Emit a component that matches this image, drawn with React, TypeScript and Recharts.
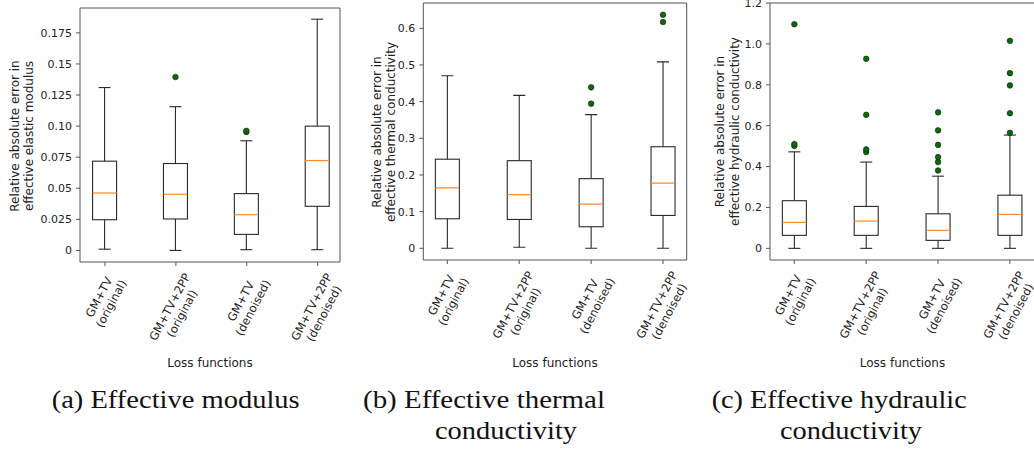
import React from 'react';
import { ComposedChart, Bar, XAxis, YAxis, ReferenceLine } from 'recharts';

// ---------- categories ----------
const catLine1 = ['GM+TV', 'GM+TV+2PP', 'GM+TV', 'GM+TV+2PP'];
const catLine2 = ['(original)', '(original)', '(denoised)', '(denoised)'];
const positions = [1, 2, 3, 4];

// ---------- (a) effective modulus ----------
const modMin = [0.001, 0.0, 0.0006, 0.0006];
const modQ1 = [0.0247, 0.0253, 0.0129, 0.0355];
const modMed = [0.0462, 0.0452, 0.0288, 0.0723];
const modQ3 = [0.0718, 0.0699, 0.0457, 0.1];
const modMax = [0.131, 0.1156, 0.0882, 0.186];
const modOut = [[], [0.1395], [0.0952, 0.0962], []];
const modTicks = [0, 0.025, 0.05, 0.075, 0.1, 0.125, 0.15, 0.175];
const modTickLabels = ['0', '0.025', '0.05', '0.075', '0.10', '0.125', '0.15', '0.175'];

// ---------- (b) effective thermal conductivity ----------
const thMin = [0, 0.0027, 0, 0];
const thQ1 = [0.0805, 0.0787, 0.0588, 0.0896];
const thMed = [0.1646, 0.1466, 0.1203, 0.178];
const thQ3 = [0.243, 0.239, 0.19, 0.277];
const thMax = [0.4705, 0.417, 0.3646, 0.5085];
const thOut = [[], [], [0.3945, 0.439], [0.617, 0.637]];
const thTicks = [0, 0.1, 0.2, 0.3, 0.4, 0.5, 0.6];
const thTickLabels = ['0', '0.1', '0.2', '0.3', '0.4', '0.5', '0.6'];

// ---------- (c) effective hydraulic conductivity ----------
const hyMin = [0, 0, 0, 0];
const hyQ1 = [0.0635, 0.0635, 0.039, 0.0635];
const hyMed = [0.127, 0.1334, 0.088, 0.166];
const hyQ3 = [0.233, 0.205, 0.169, 0.26];
const hyMax = [0.472, 0.422, 0.353, 0.554];
const hyOut = [
  [0.501, 0.51, 1.096],
  [0.471, 0.484, 0.653, 0.927],
  [0.381, 0.422, 0.446, 0.506, 0.577, 0.665],
  [0.565, 0.661, 0.797, 0.857, 1.015],
];
const hyTicks = [0, 0.2, 0.4, 0.6, 0.8, 1.0, 1.2];
const hyTickLabels = ['0', '0.2', '0.4', '0.6', '0.8', '1.0', '1.2'];

// ---------- helpers ----------
const buildRows = (mins: number[], q1s: number[], meds: number[], q3s: number[], maxs: number[], outs: number[][]) =>
  positions.map((p, i) => ({
    pos: p,
    whisk: [mins[i], maxs[i]],
    lo: mins[i],
    hi: maxs[i],
    q1: q1s[i],
    med: meds[i],
    q3: q3s[i],
    out: outs[i],
  }));

const FONT = '"DejaVu Sans", sans-serif';
const BOX_STROKE = '#2a2a2a';
const FRAME = '#555555';
const MEDIAN = '#ff8a26';
const OUT_FILL = '#0b6a0b';

const BoxShape = (props: any) => {
  const { x, y, width, height } = props;
  const d = props.payload || props;
  const { lo, hi, q1, med, q3, out } = d;
  const py = (v: number) => y + (height * (hi - v)) / (hi - lo);
  const cx = x + width / 2;
  const cap = width / 4;
  return (
    <g>
      <line x1={cx} x2={cx} y1={py(hi)} y2={py(q3)} stroke={BOX_STROKE} strokeWidth={1.1} />
      <line x1={cx} x2={cx} y1={py(q1)} y2={py(lo)} stroke={BOX_STROKE} strokeWidth={1.1} />
      <line x1={cx - cap} x2={cx + cap} y1={py(hi)} y2={py(hi)} stroke={BOX_STROKE} strokeWidth={1.1} />
      <line x1={cx - cap} x2={cx + cap} y1={py(lo)} y2={py(lo)} stroke={BOX_STROKE} strokeWidth={1.1} />
      <rect x={x} y={py(q3)} width={width} height={py(q1) - py(q3)} fill="none" stroke={BOX_STROKE} strokeWidth={1.1} />
      <line x1={x} x2={x + width} y1={py(med)} y2={py(med)} stroke={MEDIAN} strokeWidth={1.2} />
      {(out || []).map((v: number, k: number) => (
        <circle key={k} cx={cx} cy={py(v)} r={2.8} fill={OUT_FILL} stroke="#1a1a1a" strokeWidth={0.6} />
      ))}
    </g>
  );
};

// DejaVu Sans advance widths (em)
const CW: Record<string, number> = {
  G: 0.775, M: 0.863, '+': 0.838, T: 0.611, V: 0.684, '2': 0.636, P: 0.603,
  '(': 0.39, ')': 0.39, o: 0.612, r: 0.411, i: 0.278, g: 0.635, n: 0.634, a: 0.613,
  l: 0.278, d: 0.635, e: 0.615, s: 0.521,
};
const textW = (s: string, fs: number) => s.split('').reduce((a, c) => a + (CW[c] || 0.6), 0) * fs;

const XFS = 11.5;
const THETA = 62;

const makeXTick = (plotBottom: number) => (props: any) => {
  const { x, payload } = props;
  const i = Math.round(payload.value) - 1;
  if (i < 0 || i > 3) return null;
  const l1 = catLine1[i];
  const l2 = catLine2[i];
  const lh = XFS * 1.2;
  const w = Math.max(textW(l1, XFS), textW(l2, XFS));
  const h = 2 * lh;
  const th = (THETA * Math.PI) / 180;
  const H = w * Math.sin(th) + h * Math.cos(th);
  const top = plotBottom + 9;
  const cy = top + H / 2;
  return (
    <g transform={`translate(${x},${cy}) rotate(${-THETA})`}>
      <text textAnchor="middle" fontFamily={FONT} fontSize={XFS} fill="#222">
        <tspan x={0} y={-lh / 2} dominantBaseline="central">{l1}</tspan>
        <tspan x={0} y={lh / 2} dominantBaseline="central">{l2}</tspan>
      </text>
    </g>
  );
};

type PanelProps = {
  left: number;
  width: number;
  top: number;
  plotBottom: number;
  yWidth: number;
  right: number;
  rows: any[];
  ticks: number[];
  tickLabels: string[];
  yDomain: [number, number];
  xDomain: [number, number];
  ylab: [string, string];
  ylabX: [number, number];
  ylabY: number;
  xlabX: number;
};

const CHART_H = 400;

const Panel = (p: PanelProps) => {
  const XTick = makeXTick(p.plotBottom);
  return (
    <div style={{ position: 'absolute', left: p.left, top: 0 }}>
      <ComposedChart
        width={p.width}
        height={CHART_H}
        data={p.rows}
        margin={{ top: p.top, right: p.right, bottom: 0, left: 0 }}
      >
        <XAxis
          dataKey="pos"
          type="number"
          domain={p.xDomain}
          ticks={positions}
          allowDataOverflow
          interval={0}
          height={CHART_H - p.plotBottom}
          tickSize={4}
          tickLine={{ stroke: FRAME }}
          axisLine={{ stroke: FRAME }}
          tick={<XTick />}
          label={{
            content: () => (
              <text x={p.xlabX} y={367} textAnchor="middle" fontFamily={FONT} fontSize={12} fill="#222">
                Loss functions
              </text>
            ),
          }}
        />
        <YAxis
          type="number"
          domain={p.yDomain}
          ticks={p.ticks}
          allowDataOverflow
          interval={0}
          width={p.yWidth}
          tickSize={4}
          tickMargin={4}
          tickLine={{ stroke: FRAME }}
          axisLine={{ stroke: FRAME }}
          tick={{ fontFamily: FONT, fontSize: 11, fill: '#222' }}
          tickFormatter={(v: number) => {
            const k = p.ticks.findIndex((t) => Math.abs(t - v) < 1e-9);
            return k >= 0 ? p.tickLabels[k] : String(v);
          }}
          label={{
            content: () => (
              <g fontFamily={FONT} fontSize={12} fill="#222">
                <text
                  x={p.ylabX[0]}
                  y={p.ylabY}
                  textAnchor="middle"
                  dominantBaseline="central"
                  transform={`rotate(-90 ${p.ylabX[0]} ${p.ylabY})`}
                >
                  {p.ylab[0]}
                </text>
                <text
                  x={p.ylabX[1]}
                  y={p.ylabY}
                  textAnchor="middle"
                  dominantBaseline="central"
                  transform={`rotate(-90 ${p.ylabX[1]} ${p.ylabY})`}
                >
                  {p.ylab[1]}
                </text>
              </g>
            ),
          }}
        />
        <ReferenceLine y={p.yDomain[1]} stroke={FRAME} strokeWidth={1} ifOverflow="visible" />
        <ReferenceLine x={p.xDomain[1]} stroke={FRAME} strokeWidth={1} ifOverflow="visible" />
        <Bar dataKey="whisk" barSize={24} isAnimationActive={false} shape={<BoxShape />} />
      </ComposedChart>
    </div>
  );
};

const CAP_FONT = 'Liberation Serif, Times New Roman, serif';

const Caption = ({ x, y, w, text }: { x: number; y: number; w: number; text: string }) => (
  <text x={x} y={y} fontFamily={CAP_FONT} fontSize={25.5} fill="#111" textLength={w} lengthAdjust="spacingAndGlyphs">
    {text}
  </text>
);

export default function App() {
  const modRows = buildRows(modMin, modQ1, modMed, modQ3, modMax, modOut);
  const thRows = buildRows(thMin, thQ1, thMed, thQ3, thMax, thOut);
  const hyRows = buildRows(hyMin, hyQ1, hyMed, hyQ3, hyMax, hyOut);
  return (
    <div
      style={{
        position: 'absolute',
        left: 0,
        top: 0,
        width: 1034,
        height: 450,
        overflow: 'hidden',
        background: '#fff',
      }}
    >
      <Panel
        left={0}
        width={345}
        top={8}
        plotBottom={262}
        yWidth={80}
        right={5}
        rows={modRows}
        ticks={modTicks}
        tickLabels={modTickLabels}
        yDomain={[-0.0093, 0.195]}
        xDomain={[0.647, 4.315]}
        ylab={['Relative absolute error in', 'effective elastic modulus']}
        ylabX={[15, 28.5]}
        ylabY={136}
        xlabX={210}
      />
      <Panel
        left={345}
        width={345}
        top={3}
        plotBottom={260}
        yWidth={78.3}
        right={3.3}
        rows={thRows}
        ticks={thTicks}
        tickLabels={thTickLabels}
        yDomain={[-0.0319, 0.669]}
        xDomain={[0.666, 4.33]}
        ylab={['Relative absolute error in', 'effective thermal conductivity']}
        ylabX={[31.7, 45.7]}
        ylabY={132}
        xlabX={210}
      />
      <Panel
        left={690}
        width={346}
        top={3}
        plotBottom={260}
        yWidth={80}
        right={1}
        rows={hyRows}
        ticks={hyTicks}
        tickLabels={hyTickLabels}
        yDomain={[-0.057, 1.2]}
        xDomain={[0.662, 4.35]}
        ylab={['Relative absolute error in', 'effective hydraulic conductivity']}
        ylabX={[30, 45]}
        ylabY={131.5}
        xlabX={212.5}
      />
      <svg
        width={1034}
        height={450}
        style={{ position: 'absolute', left: 0, top: 0, pointerEvents: 'none' }}
      >
        <Caption x={51.7} y={408} w={248} text="(a) Effective modulus" />
        <Caption x={363} y={408} w={242} text="(b) Effective thermal" />
        <Caption x={435} y={439} w={142} text="conductivity" />
        <Caption x={711.7} y={408} w={255} text="(c) Effective hydraulic" />
        <Caption x={780} y={439} w={142} text="conductivity" />
      </svg>
    </div>
  );
}
